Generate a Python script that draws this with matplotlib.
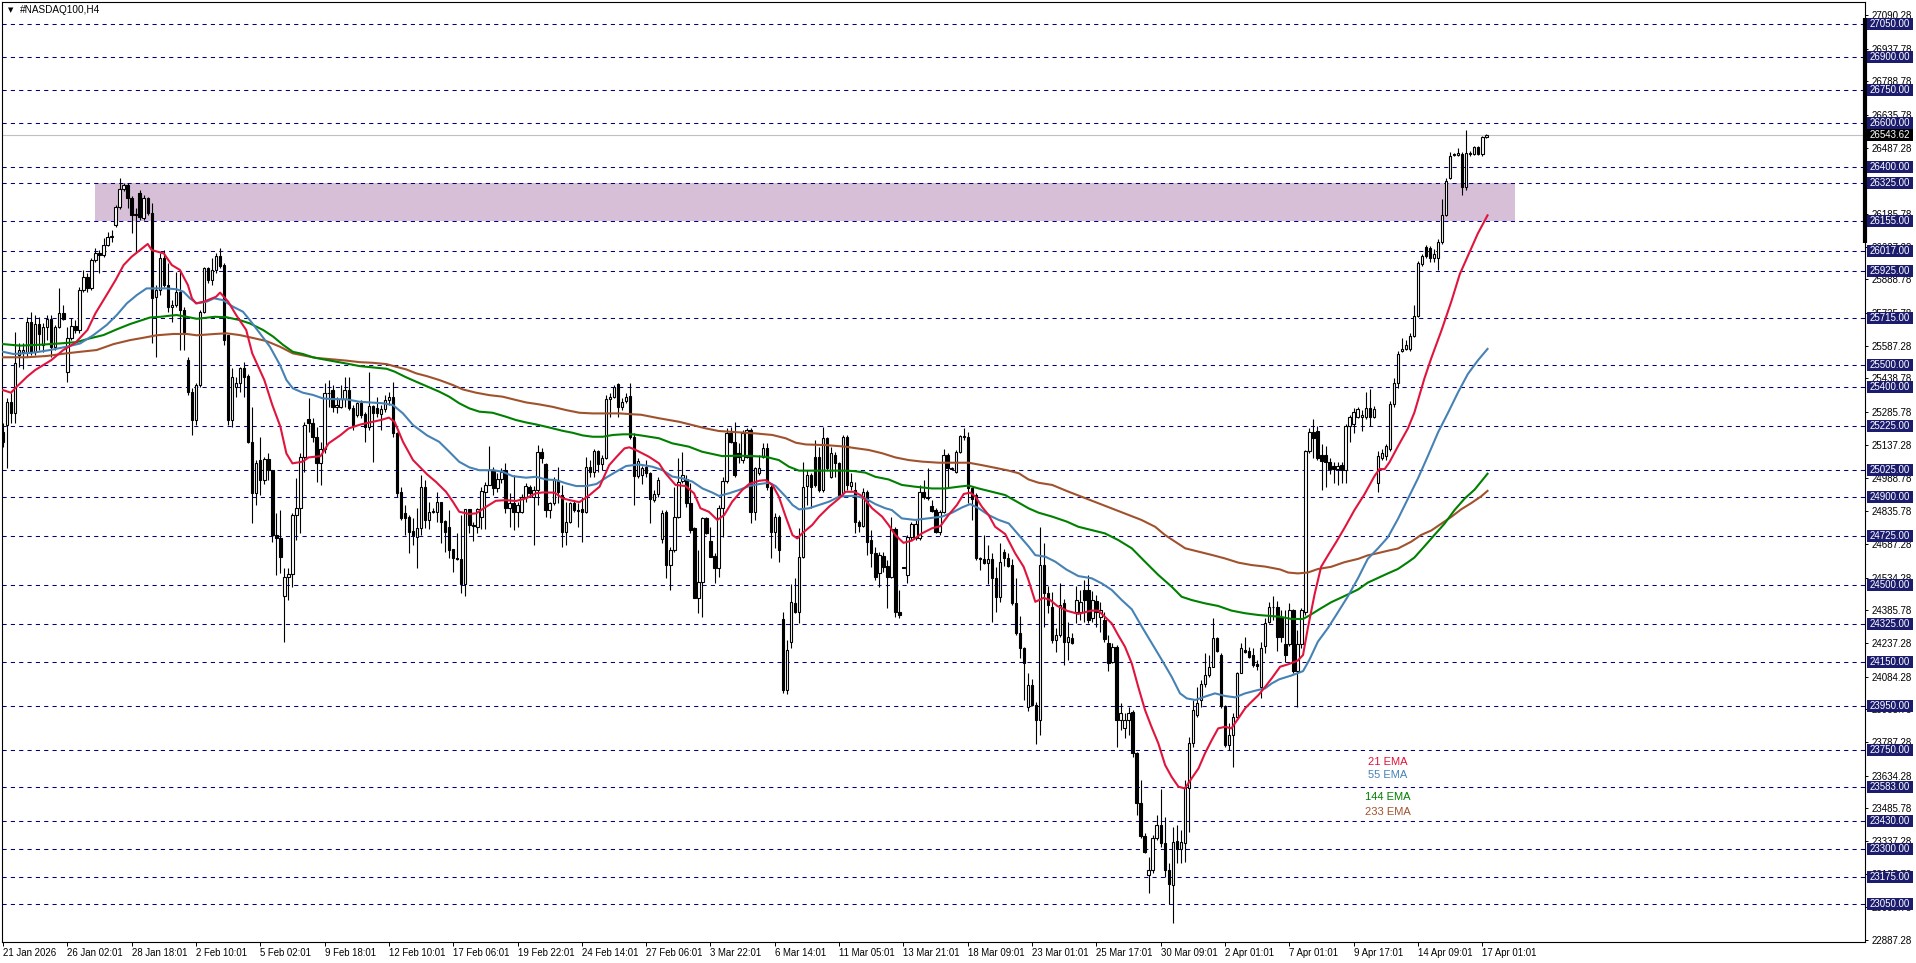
import matplotlib
matplotlib.use("Agg")
import matplotlib.pyplot as plt
import matplotlib.transforms as mtransforms
from matplotlib.patches import Rectangle
import numpy as np

# ---- candles (H4 bars, oldest first) ----
opens = [
    25197, 25227, 25330, 25280, 25545, 25560, 25560, 25697, 25560, 25685,
    25590, 25674, 25707, 25583, 25674, 25735, 25470, 25621, 25677, 25659,
    25841, 25901, 25848, 25977, 26007, 26000, 26045, 26083, 26136, 26216,
    26298, 26318, 26257, 26181, 26280, 26166, 26257, 26189, 25810, 25841,
    25985, 25863, 25765, 25772, 25833, 25750, 25522, 25378, 25250, 25409,
    25742, 25939, 25886, 25932, 25995, 25954, 25636, 25250, 25400, 25420,
    25485, 25450, 25151, 24917, 25068, 24977, 25071, 25023, 24727, 24712,
    24450, 24535, 24549, 24818, 24848, 25083, 25253, 25238, 25174, 25053,
    25117, 25371, 25386, 25310, 25310, 25344, 25386, 25303, 25273, 25329,
    25277, 25217, 25314, 25303, 25277, 25298, 25341, 25356, 25189, 24924,
    24826, 24811, 24745, 24720, 24758, 24944, 24795, 24833, 24833, 24876,
    24792, 24762, 24663, 24621, 24618, 24503, 24844, 24773, 24762, 24810,
    24924, 24957, 25022, 24939, 24980, 25025, 24848, 24871, 24833, 24833,
    24901, 24947, 24901, 24932, 25106, 25048, 24841, 24871, 24974, 24909,
    24742, 24788, 24874, 24841, 24844, 24833, 25035, 25015, 25109, 25050,
    25076, 25344, 25356, 25413, 25307, 25338, 25359, 25174, 24995, 25000,
    25038, 25011, 24886, 24914, 24708, 24833, 24591, 24659, 24811, 24974,
    24980, 24871, 24758, 24440, 24515, 24803, 24702, 24632, 24576, 24849,
    24974, 25189, 25151, 25098, 25068, 25083, 25204, 24833, 25008, 25083,
    25121, 24947, 24742, 24811, 24344, 24023, 24243, 24420, 24379, 24629,
    24950, 25000, 25080, 25083, 24932, 25167, 24992, 25091, 25053, 24917,
    25174, 24950, 24932, 24788, 24768, 24924, 24705, 24644, 24556, 24632,
    24586, 24538, 24753, 24379, 24579, 24546, 24720, 24712, 24712, 24924,
    24902, 24859, 24841, 24742, 24833, 25091, 25026, 25015, 25106, 25177,
    25171, 24939, 24909, 24621, 24617, 24602, 24617, 24530, 24447, 24652,
    24621, 24591, 24420, 24283, 24212, 23947, 24046, 23955, 23886, 24591,
    24465, 24402, 24250, 24273, 24417, 24243, 24258, 24379, 24379, 24478,
    24478, 24349, 24429, 24356, 24341, 24238, 24152, 24220, 23887, 23849,
    23887, 23925, 23735, 23511, 23360, 23182, 23205, 23353, 23410, 23329,
    23205, 23137, 23338, 23303, 23329, 23576, 23781, 23910, 23978, 24050,
    24091, 24129, 24258, 24182, 23950, 23773, 23818, 23902, 24102, 24205,
    24202, 24182, 24141, 24038, 24223, 24334, 24399, 24402, 24357, 24233,
    24233, 24387, 24109, 24233, 24377, 25109, 25195, 25202, 25092, 25092,
    25057, 25043, 25026, 25047, 25022, 25222, 25233, 25264, 25264, 25264,
    25305, 25264, 24965, 25078, 25088, 25119, 25325, 25418, 25562, 25572,
    25572, 25634, 25723, 25958, 26036, 26032, 25985, 25985, 26057, 26181,
    26349, 26452, 26452, 26459, 26308, 26459, 26459, 26490, 26459, 26535,
]
highs = [
    25235, 25348, 25371, 25651, 25598, 25598, 25720, 25742, 25727, 25720,
    25690, 25727, 25727, 25681, 25848, 25772, 25674, 25712, 25704, 25856,
    25931, 25916, 25985, 26030, 26022, 26075, 26106, 26113, 26227, 26348,
    26329, 26325, 26270, 26212, 26295, 26272, 26265, 26234, 25863, 26007,
    26022, 25962, 25795, 25924, 25931, 25765, 25538, 25395, 25417, 25750,
    25947, 25947, 25985, 26010, 26030, 25965, 25636, 25485, 25447, 25492,
    25515, 25460, 25310, 25068, 25174, 25083, 25098, 25023, 24826, 24841,
    24576, 24576, 24826, 24985, 25098, 25242, 25348, 25257, 25220, 25151,
    25417, 25432, 25409, 25356, 25409, 25447, 25447, 25318, 25333, 25341,
    25288, 25470, 25318, 25356, 25318, 25364, 25379, 25424, 25197, 24947,
    24864, 24818, 24803, 24848, 25000, 24977, 24879, 24848, 24924, 24879,
    24795, 24841, 24666, 24735, 24818, 24844, 24844, 24788, 24848, 24947,
    24970, 25132, 25035, 25007, 25030, 25056, 24917, 25002, 24879, 24916,
    24962, 24955, 24950, 25136, 25121, 25053, 24879, 24989, 25038, 24954,
    24879, 24879, 24886, 24871, 24901, 25083, 25068, 25118, 25114, 25091,
    25363, 25371, 25409, 25419, 25348, 25371, 25416, 25189, 25076, 25040,
    25068, 25016, 24932, 24992, 24841, 24841, 24674, 24947, 25076, 25106,
    25000, 24962, 24765, 24659, 24811, 24811, 24765, 24644, 24864, 24992,
    25212, 25220, 25242, 25144, 25204, 25212, 25212, 25038, 25091, 25144,
    25144, 24955, 24826, 24818, 24379, 24250, 24507, 24530, 24758, 25060,
    25023, 25008, 25159, 25129, 25220, 25174, 25129, 25106, 25061, 25182,
    25182, 25008, 24970, 24795, 24939, 24932, 24750, 24674, 24652, 24652,
    24614, 24808, 24762, 24477, 24582, 24727, 24788, 24795, 24955, 24977,
    25030, 24886, 24849, 24841, 25117, 25099, 25038, 25114, 25182, 25212,
    25197, 24947, 24917, 24629, 24727, 24682, 24644, 24583, 24692, 24662,
    24644, 24617, 24530, 24359, 24220, 24099, 24071, 23970, 24765, 24689,
    24496, 24470, 24303, 24508, 24435, 24334, 24281, 24496, 24478, 24523,
    24546, 24474, 24455, 24424, 24379, 24273, 24235, 24228, 23963, 23917,
    23947, 23932, 23743, 23614, 23372, 23266, 23364, 23455, 23572, 23447,
    23235, 23402, 23410, 23387, 23614, 23811, 23978, 24038, 24068, 24190,
    24182, 24349, 24265, 24190, 23955, 23872, 23917, 24106, 24235, 24265,
    24220, 24212, 24159, 24243, 24349, 24424, 24450, 24429, 24387, 24387,
    24418, 24391, 24295, 24398, 25113, 25212, 25253, 25222, 25140, 25133,
    25078, 25057, 25057, 25057, 25233, 25274, 25305, 25311, 25294, 25377,
    25393, 25315, 25109, 25119, 25140, 25335, 25439, 25562, 25624, 25613,
    25644, 25772, 25974, 26005, 26046, 26040, 26026, 26073, 26253, 26349,
    26469, 26465, 26485, 26469, 26568, 26473, 26494, 26494, 26541, 26551,
]
lows = [
    25129, 25030, 25235, 25235, 25492, 25484, 25538, 25545, 25545, 25568,
    25560, 25613, 25538, 25568, 25667, 25704, 25424, 25613, 25644, 25644,
    25833, 25833, 25841, 25970, 25917, 25990, 26040, 26060, 26125, 26207,
    26290, 26212, 26098, 26015, 26159, 26159, 26181, 25600, 25538, 25818,
    25856, 25742, 25697, 25765, 25568, 25568, 25363, 25182, 25227, 25401,
    25735, 25871, 25863, 25917, 25940, 25591, 25227, 25220, 25356, 25379,
    25356, 25144, 24780, 24864, 24909, 24960, 24977, 24697, 24545, 24553,
    24242, 24432, 24492, 24705, 24738, 25016, 25196, 25151, 24970, 24955,
    25098, 25310, 25288, 25280, 25303, 25310, 25295, 25204, 25265, 25257,
    25151, 25204, 25060, 25265, 25204, 25288, 25318, 25174, 24902, 24795,
    24727, 24644, 24682, 24576, 24727, 24758, 24757, 24826, 24788, 24689,
    24651, 24621, 24560, 24615, 24465, 24450, 24735, 24701, 24738, 24757,
    24757, 24954, 24909, 24924, 24962, 24826, 24765, 24750, 24765, 24829,
    24879, 24901, 24682, 24864, 25053, 24810, 24803, 24864, 24871, 24674,
    24682, 24780, 24833, 24765, 24697, 24826, 24989, 24992, 25015, 25022,
    25071, 25265, 25348, 25265, 25295, 25326, 25166, 24863, 24985, 24960,
    24992, 24783, 24878, 24901, 24692, 24530, 24477, 24652, 24803, 24962,
    24856, 24735, 24440, 24371, 24356, 24730, 24629, 24508, 24538, 24720,
    24962, 25144, 24992, 25053, 25053, 25076, 24780, 24796, 25000, 25076,
    24932, 24621, 24667, 24606, 24008, 24005, 24212, 24374, 24326, 24621,
    24864, 24849, 24947, 24924, 24924, 25023, 24985, 24992, 24902, 24909,
    24932, 24932, 24735, 24742, 24765, 24636, 24583, 24523, 24492, 24561,
    24394, 24530, 24356, 24349, 24576, 24508, 24705, 24705, 24705, 24890,
    24886, 24833, 24735, 24727, 24826, 24947, 25023, 25008, 25102, 25159,
    24871, 24795, 24614, 24568, 24598, 24505, 24330, 24379, 24424, 24586,
    24583, 24409, 24273, 24167, 23977, 23929, 23950, 23777, 23818, 24311,
    24371, 24235, 24197, 24265, 24136, 24160, 24232, 24326, 24341, 24334,
    24326, 24334, 24311, 24288, 24243, 24111, 24144, 23766, 23841, 23803,
    23818, 23720, 23455, 23349, 23281, 23099, 23190, 23341, 23311, 23175,
    23053, 22966, 23235, 23235, 23243, 23379, 23766, 23902, 23947, 24038,
    24084, 24126, 24197, 23940, 23765, 23750, 23675, 23894, 24099, 24190,
    24167, 24129, 24114, 23985, 24190, 24326, 24341, 24200, 24243, 24151,
    24222, 24099, 23944, 24212, 24366, 25099, 25078, 25068, 24934, 24944,
    25006, 24965, 24954, 24965, 24965, 25150, 25192, 25258, 25202, 25253,
    25222, 25258, 24923, 25068, 25068, 25109, 25311, 25397, 25558, 25566,
    25562, 25628, 25716, 25950, 25985, 25970, 25970, 25933, 26052, 26176,
    26345, 26448, 26448, 26273, 26294, 26448, 26455, 26455, 26448, 26531,
]
closes = [
    25151, 25333, 25280, 25507, 25568, 25566, 25697, 25560, 25685, 25639,
    25674, 25707, 25583, 25674, 25735, 25709, 25621, 25677, 25659, 25841,
    25901, 25848, 25977, 26007, 26000, 26045, 26083, 26086, 26216, 26298,
    26318, 26257, 26181, 26186, 26174, 26257, 26189, 25803, 25841, 25985,
    25863, 25765, 25772, 25833, 25750, 25651, 25378, 25250, 25409, 25742,
    25939, 25886, 25932, 25995, 25950, 25614, 25250, 25447, 25420, 25485,
    25447, 25151, 24917, 25053, 24977, 25071, 25023, 24727, 24712, 24629,
    24535, 24549, 24818, 24848, 25083, 25227, 25238, 25174, 25053, 25117,
    25371, 25375, 25310, 25318, 25344, 25386, 25303, 25227, 25329, 25273,
    25217, 25314, 25280, 25280, 25298, 25341, 25356, 25189, 24917, 24803,
    24803, 24742, 24727, 24758, 24944, 24795, 24833, 24838, 24876, 24788,
    24742, 24659, 24621, 24618, 24503, 24844, 24773, 24768, 24844, 24926,
    24957, 25022, 24939, 24980, 25015, 24848, 24871, 24833, 24863, 24901,
    24950, 24917, 24932, 25106, 25076, 24841, 24871, 24977, 24924, 24742,
    24788, 24871, 24841, 24838, 24833, 25035, 25015, 25109, 25050, 25076,
    25344, 25356, 25401, 25307, 25333, 25356, 25174, 24995, 25065, 25030,
    25008, 24889, 24914, 24977, 24826, 24591, 24659, 24811, 24970, 25000,
    24871, 24750, 24440, 24515, 24803, 24735, 24629, 24576, 24849, 24974,
    25189, 25151, 25000, 25083, 25189, 25204, 24833, 25030, 25030, 25121,
    24947, 24742, 24811, 24659, 24023, 24205, 24424, 24379, 24629, 24947,
    25000, 24947, 24955, 24932, 25167, 25030, 25098, 25053, 24905, 25174,
    24955, 24970, 24788, 24768, 24924, 24697, 24644, 24535, 24636, 24583,
    24538, 24753, 24379, 24364, 24579, 24720, 24776, 24777, 24924, 24899,
    24894, 24838, 24742, 24833, 25091, 25030, 25030, 25106, 25177, 25171,
    24939, 24889, 24621, 24617, 24602, 24617, 24530, 24447, 24606, 24621,
    24586, 24417, 24280, 24212, 24147, 24046, 23955, 23886, 24591, 24462,
    24409, 24250, 24273, 24409, 24243, 24262, 24235, 24432, 24424, 24432,
    24341, 24432, 24379, 24387, 24253, 24147, 24220, 23887, 23920, 23887,
    23920, 23735, 23508, 23360, 23289, 23205, 23353, 23410, 23329, 23205,
    23141, 23334, 23303, 23334, 23584, 23781, 23932, 23963, 24050, 24091,
    24129, 24258, 24202, 23950, 23773, 23818, 23902, 24102, 24212, 24197,
    24174, 24137, 24134, 24212, 24329, 24399, 24402, 24265, 24264, 24182,
    24387, 24109, 24233, 24387, 25109, 25195, 25170, 25078, 25064, 25057,
    25026, 25026, 25043, 25022, 25222, 25264, 25288, 25298, 25274, 25305,
    25264, 25298, 25088, 25099, 25130, 25325, 25418, 25552, 25572, 25593,
    25634, 25723, 25964, 25995, 25995, 25985, 26005, 26057, 26181, 26335,
    26448, 26459, 26465, 26308, 26465, 26465, 26490, 26459, 26535, 26543.62,
]

# ---- moving averages: (bar, price) ----
ema21 = [(0,25386),(2,25374),(3,25394),(6,25447),(8,25477),(12,25522),(15,25568),(18,25601),(21,25659),(23,25735),(26,25825),(28,25886),(30,25954),(32,25992),(36,26050),(37,26022),(40,26007),(42,25954),(44,25932),(46,25863),(47,25803),(48,25780),(50,25788),(53,25810),(54,25829),(56,25788),(58,25727),(60.5,25659),(62,25553),(65,25432),(67,25318),(69,25220),(70.5,25098),(72,25053),(74.6,25061),(76,25080),(79,25086),(81,25144),(84,25182),(86,25212),(89,25230),(91,25238),(94,25250),(96,25261),(97.4,25242),(99.5,25151),(102,25068),(105.5,25003),(107.7,24969),(110.2,24924),(111.9,24879),(113.5,24833),(116,24823),(117.7,24826),(120.2,24856),(122.6,24883),(125.1,24886),(127.6,24882),(130.1,24894),(132.6,24917),(134.3,24921),(137.2,24920),(139.2,24894),(141.7,24883),(143.4,24877),(145.9,24909),(148.4,24947),(150.8,25045),(152.5,25080),(154.6,25121),(155.8,25126),(157.5,25113),(160.7,25083),(163.2,25053),(164.8,25008),(167.3,24955),(169.8,24950),(171.9,24917),(173.5,24849),(175.6,24833),(177.7,24796),(179.4,24818),(181.4,24879),(183.9,24932),(185.6,24959),(188.1,24974),(189.7,24977),(191.4,24955),(193,24902),(194.7,24811),(196.4,24727),(197.6,24712),(198.8,24735),(201.3,24773),(203,24811),(205.5,24856),(208,24894),(209.6,24924),(211.7,24924),(213.7,24905),(216.2,24849),(218.7,24811),(220.3,24773),(222,24727),(224,24692),(226.1,24702),(228.6,24735),(231.1,24758),(233.2,24768),(235.2,24818),(237.3,24864),(239,24914),(240.6,24920),(241.9,24902),(243.5,24856),(245.2,24818),(246.8,24765),(249.3,24732),(251.8,24644),(253.9,24583),(255.1,24523),(256.8,24424),(258.9,24442),(260.5,24432),(262.2,24406),(264.7,24383),(267.5,24369),(270.8,24384),(272.5,24384),(274.1,24356),(275.8,24326),(277.4,24273),(279.1,24220),(280.8,24144),(282.4,24038),(284.1,23932),(285.7,23856),(287.4,23781),(289.1,23682),(290.7,23629),(292.4,23584),(294,23576),(295.7,23622),(297.4,23667),(299,23735),(300.7,23796),(302.3,23849),(304,23856),(305.6,23849),(307.3,23894),(309,23940),(310.6,23970),(312.3,24000),(314,24038),(315.6,24076),(317.7,24129),(319.7,24140),(322.1,24157),(323.4,24182),(324.6,24305),(326.3,24460),(327.9,24583),(329.6,24635),(331.7,24697),(333.7,24759),(336.2,24841),(338.7,24913),(341.2,24996),(342.4,25027),(343.7,25027),(344.9,25058),(347,25130),(349.5,25212),(351.1,25284),(353.6,25439),(355.3,25531),(357.8,25655),(360.3,25789),(362.4,25913),(364.4,25995),(366.9,26098),(369.3,26180)]
ema55 = [(0,25560),(2.6,25550),(7.5,25556),(11.7,25568),(15.8,25583),(19.2,25598),(22.5,25636),(25.8,25682),(28.3,25727),(30.8,25780),(33.3,25818),(35.7,25848),(40.7,25848),(43.2,25844),(44.9,25833),(46.5,25803),(48.2,25780),(50.7,25788),(52.5,25803),(54.7,25795),(57.2,25765),(59.7,25742),(61.4,25704),(63.9,25644),(66.4,25583),(68.9,25500),(70.5,25432),(72.1,25394),(74.6,25374),(77.1,25364),(79.6,25348),(82.1,25345),(85.4,25344),(88.7,25333),(92,25329),(94.5,25326),(97,25318),(99.5,25280),(102,25227),(105.5,25180),(108.5,25151),(111,25106),(113.5,25060),(116,25035),(118.5,25022),(121.8,25022),(124.3,25015),(126.8,24995),(130.1,24988),(132.6,24992),(135.1,24980),(137.6,24977),(140.1,24962),(142.6,24950),(145.1,24950),(147.6,24959),(150.1,24989),(152.5,25015),(155,25041),(158.2,25048),(161.5,25038),(164,25023),(166.5,24993),(169,24985),(171.5,24970),(174,24939),(176.5,24920),(178.1,24905),(180.6,24917),(183.1,24932),(185.6,24950),(188.1,24959),(190.6,24965),(192.2,24950),(194.7,24902),(196.4,24864),(198,24844),(200.5,24849),(203,24864),(205.5,24879),(208,24902),(211.7,24906),(214.5,24894),(217,24868),(219.5,24849),(221.1,24841),(223.6,24803),(226.9,24796),(230.1,24803),(233.6,24811),(236.1,24829),(238.6,24853),(240.6,24868),(242.7,24849),(245.2,24818),(247.7,24796),(250.2,24780),(252.7,24727),(255.2,24674),(256.8,24636),(259.3,24629),(261.8,24606),(264.5,24571),(267.5,24541),(270.8,24531),(273.3,24508),(275.8,24478),(278.3,24432),(280.8,24390),(283.3,24311),(285.8,24235),(288.3,24159),(290.7,24084),(292.8,24008),(294.5,23985),(296.6,23978),(299,23993),(301.5,24008),(304,23996),(306.5,23990),(309,24008),(311.5,24020),(314,24031),(315.6,24053),(317.5,24072),(320.5,24089),(323.4,24109),(325,24161),(327.1,24243),(329.6,24305),(332.1,24377),(334.6,24450),(337.1,24532),(339.5,24619),(342,24666),(344.5,24717),(347,24800),(349.5,24893),(352,24985),(354.5,25088),(357,25194),(359.5,25284),(362,25377),(364.4,25459),(366.9,25521),(369.3,25573)]
ema144 = [(0,25595),(4.2,25588),(9.2,25592),(14.2,25598),(18.3,25604),(21.6,25621),(25,25636),(28.3,25662),(31.6,25686),(34.1,25701),(36.6,25716),(39.1,25719),(41.5,25724),(43.2,25727),(45.7,25719),(48.2,25710),(50.7,25715),(52.7,25719),(55.6,25717),(58.9,25704),(61.4,25689),(64.7,25659),(67.2,25629),(69.7,25591),(72.1,25560),(74.6,25550),(77.1,25535),(79.6,25526),(82.9,25515),(86.2,25504),(88.7,25495),(92,25489),(95.4,25483),(97.4,25470),(100.3,25444),(102.8,25424),(105.7,25401),(108.5,25379),(111,25356),(113.5,25326),(116,25303),(118.5,25288),(121.8,25283),(125.1,25265),(127.6,25250),(130.1,25239),(132.6,25230),(135.9,25216),(139.2,25201),(141.7,25192),(144.2,25180),(146.7,25174),(149.2,25174),(151.7,25182),(154.2,25185),(156.7,25185),(158.7,25180),(163.2,25167),(166.5,25144),(170.6,25129),(173.9,25106),(176.4,25096),(178.9,25086),(183.1,25088),(186.4,25086),(189.7,25083),(193,25068),(195.5,25038),(198,25020),(201.3,25020),(205.5,25020),(209.6,25020),(211.7,25018),(214.5,25011),(217,24992),(220.3,24980),(223.6,24955),(226.9,24947),(231.1,24939),(234.4,24939),(237.7,24947),(240.2,24952),(242.7,24939),(246,24924),(249.3,24909),(252.7,24874),(255.1,24849),(257.6,24829),(261,24811),(264.7,24788),(267.5,24765),(270.8,24750),(274.1,24735),(277.4,24705),(280.8,24667),(284.1,24606),(287.4,24546),(290.7,24493),(293.2,24447),(295.7,24432),(299,24417),(302.3,24405),(305.6,24384),(309,24372),(312.3,24364),(315.6,24359),(317.7,24356),(320.5,24346),(323.4,24346),(325,24362),(327.9,24395),(330.4,24422),(333.7,24450),(337.1,24480),(339.5,24511),(342,24532),(344.5,24553),(347,24573),(349.5,24604),(351.1,24625),(353.6,24676),(356.1,24728),(358.6,24779),(361.1,24841),(363.6,24893),(366.1,24934),(369.3,25006)]
ema233 = [(0,25535),(5.9,25535),(10.9,25541),(15.8,25553),(19.2,25560),(23.3,25568),(27.5,25595),(31.6,25613),(35,25624),(38.2,25635),(42.4,25641),(45.7,25641),(48.2,25635),(52.7,25641),(55.6,25644),(58.9,25636),(61.4,25626),(65.5,25609),(68.9,25583),(72.1,25553),(75.4,25541),(77.9,25532),(81.2,25527),(85.4,25520),(88.7,25513),(92,25510),(95.4,25504),(97.8,25492),(100.3,25480),(102.8,25462),(105.5,25449),(108.5,25432),(111.9,25409),(114.4,25389),(117.7,25374),(121,25363),(124.3,25356),(127.6,25341),(130.1,25330),(133.4,25321),(136.7,25310),(140.1,25295),(143.4,25283),(146.7,25280),(150,25280),(153.4,25280),(156.7,25276),(158.7,25274),(163.2,25258),(168.2,25242),(171.5,25227),(174.8,25212),(178.1,25200),(183.1,25194),(187.3,25189),(191.4,25182),(194.7,25167),(197.2,25147),(199.7,25139),(204.7,25136),(209.6,25129),(211.7,25123),(215.3,25114),(218.7,25099),(222,25080),(225.3,25068),(228.6,25061),(232.8,25056),(236.1,25056),(240.2,25056),(243.5,25045),(246.8,25033),(250.2,25020),(252.7,25008),(255.1,24980),(257.6,24965),(261,24955),(264.7,24927),(283.2,24796),(286.6,24765),(289.1,24727),(291.6,24697),(294.1,24667),(297.4,24652),(300.7,24637),(304,24621),(307.3,24602),(310.6,24591),(314,24584),(317.7,24571),(319.7,24557),(322.1,24553),(324.6,24557),(327.1,24573),(330.4,24583),(333.7,24604),(337.1,24619),(339.5,24635),(342,24645),(344.5,24656),(347,24666),(350.3,24697),(352.8,24728),(355.3,24748),(357.8,24779),(360.3,24810),(362.8,24845),(365.2,24872),(367.7,24903),(369.3,24928)]

# ---- horizontal levels, zone, axis labels ----
levels = [27050, 26900, 26750, 26600, 26400, 26325, 26155, 26017, 25925, 25715,
          25500, 25400, 25225, 25025, 24900, 24725, 24500, 24325, 24150, 23950,
          23750, 23583, 23430, 23300, 23175, 23050]
last_price = 26543.62
zone_low, zone_high = 26155, 26325
zone_from, zone_to = 22.9, 376.1

price_ticks = [27090.28, 26937.78, 26788.78, 26635.78, 26487.28, 26335.78, 26185.78,
               26037.28, 25888.78, 25735.78, 25587.28, 25438.78, 25285.78, 25137.28,
               24988.78, 24835.78, 24687.28, 24534.28, 24385.78, 24237.28, 24084.28,
               23935.78, 23787.28, 23634.28, 23485.78, 23337.28, 23185.78, 23035.78,
               22887.28]
date_labels = ["21 Jan 2026", "26 Jan 02:01", "28 Jan 18:01", "2 Feb 10:01", "5 Feb 02:01",
               "9 Feb 18:01", "12 Feb 10:01", "17 Feb 06:01", "19 Feb 22:01", "24 Feb 14:01",
               "27 Feb 06:01", "3 Mar 22:01", "6 Mar 14:01", "11 Mar 05:01", "13 Mar 21:01",
               "18 Mar 09:01", "23 Mar 01:01", "25 Mar 17:01", "30 Mar 09:01", "2 Apr 01:01",
               "7 Apr 01:01", "9 Apr 17:01", "14 Apr 09:01", "17 Apr 01:01"]
bars_per_label = 16

ema_names = ["21 EMA", "55 EMA", "144 EMA", "233 EMA"]
ema_colors = ["#E0143C", "#4682B4", "#008000", "#A0522D"]
legend_prices = [23697, 23636, 23539, 23467]
legend_bar = 344.5

plt.rcParams['font.family'] = ['Liberation Sans', 'DejaVu Sans']

W, H = 1916, 963
fig = plt.figure(figsize=(W / 100, H / 100), dpi=100)
ax = fig.add_axes([2 / W, 21 / H, 1863 / W, 940 / H])
ax.set_xlim(-0.25, 463.2)
ax.set_ylim(22878.2, 27149.4)
px_price = (27149.4 - 22878.2) / 940   # price units per pixel

# zone and levels
ax.add_patch(Rectangle((zone_from, zone_low), zone_to - zone_from, zone_high - zone_low,
                       facecolor="#D8BFD8", edgecolor="none", zorder=0.5))
for lv in levels:
    ax.axhline(lv, color="#000080", lw=0.75, ls=(0, (4, 4)), zorder=1)
ax.axhline(last_price, color="#C0C0C0", lw=0.8, zorder=0.9)

# candles
o = np.array(opens, float)
c = np.array(closes, float)
hi = np.array(highs, float)
lo = np.array(lows, float)
x = np.arange(len(c))
up = c >= o
ax.vlines(x, lo, hi, color="black", lw=0.8, zorder=3)
bottom = np.minimum(o, c)
height = np.maximum(np.abs(c - o), 3)
ax.bar(x[up], height[up], bottom=bottom[up], width=0.6, color="white",
       edgecolor="black", lw=0.8, zorder=4)
ax.bar(x[~up], height[~up], bottom=bottom[~up], width=0.6, color="black",
       edgecolor="black", lw=0.8, zorder=4)

# EMAs
for series, col in zip([ema233, ema144, ema55, ema21], ema_colors[::-1]):
    ex, ey = zip(*series)
    ax.plot(ex, ey, color=col, lw=1.5, zorder=5)

for name, col, py in zip(ema_names, ema_colors, legend_prices):
    ax.text(legend_bar, py, name, color=col, fontsize=8, ha="center", va="center", zorder=6)

# axes styling
for sp in ax.spines.values():
    sp.set_color("black")
    sp.set_linewidth(0.8)
ax.yaxis.tick_right()
ax.set_yticks(price_ticks)
ax.set_yticklabels([f"{v:.2f}" for v in price_ticks])
ax.tick_params(axis="y", which="major", direction="out", length=2.5, width=0.7,
               pad=2, labelsize=7, colors="black")
xt = [i * bars_per_label for i in range(len(date_labels))]
ax.set_xticks(xt)
ax.set_xticklabels(date_labels, ha="left")
ax.tick_params(axis="x", which="major", direction="out", length=3, width=0.7,
               pad=1, labelsize=6.9, colors="black")

# level tags on the price scale
blend = mtransforms.blended_transform_factory(ax.transAxes, ax.transData)
ax_w = 1863
tag_h = 12 * px_price


def tag(value, face, z):
    ax.add_patch(Rectangle((1 + 2 / ax_w, value - tag_h / 2), 46 / ax_w, tag_h,
                           transform=blend, facecolor=face, edgecolor="none",
                           clip_on=False, zorder=z))
    ax.text(1 + 4.5 / ax_w, value, f"{value:.2f}", transform=blend, fontsize=7,
            color="white", ha="left", va="center", clip_on=False, zorder=z + 0.1)


for lv in levels:
    tag(lv, "#1C1C6E", 7)
tag(last_price, "black", 8)
ax.plot([1, 1], [27077, 26054], transform=blend, color="black", lw=3,
        solid_capstyle="butt", clip_on=False, zorder=6)

# title
fig.text(8 / W, 1 - 10 / H, "\u25bc", fontsize=5, family="DejaVu Sans", va="center", ha="left")
fig.text(20 / W, 1 - 10 / H, "#NASDAQ100,H4", fontsize=7.2, va="center", ha="left")

fig.savefig("out.png", dpi=100, facecolor="white")
